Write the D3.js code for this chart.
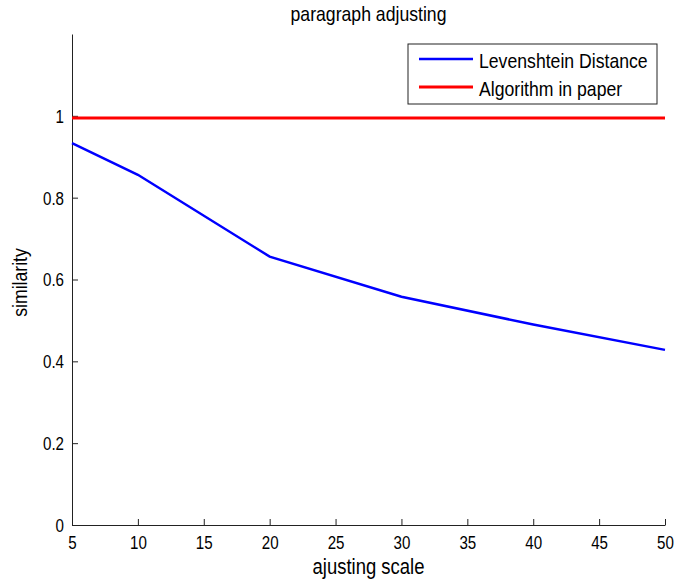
<!DOCTYPE html>
<html>
<head>
<meta charset="utf-8">
<script src="https://cdn.jsdelivr.net/npm/d3@7"></script>
<style>
  body { margin: 0; background: #fff; }
  text { font-family: "Liberation Sans", Arial, sans-serif; }
</style>
</head>
<body>
<div id="chart"></div>
<script>
// data
const scales = [5, 10, 20, 30, 40, 50];
const levenshtein = [0.933, 0.856, 0.656, 0.558, 0.490, 0.428];
const paperAlg = [0.995, 0.995, 0.995, 0.995, 0.995, 0.995];
const xTicks = [5, 10, 15, 20, 25, 30, 35, 40, 45, 50];
const yTicks = [0, 0.2, 0.4, 0.6, 0.8, 1];
const seriesNames = ["Levenshtein Distance", "Algorithm in paper"];
const seriesColors = ["#0000ff", "#ff0000"];

const margin = { top: 34, right: 9, bottom: 56, left: 72 };
const width = 674 - margin.left - margin.right;
const height = 581 - margin.top - margin.bottom;
const fontFam = "Liberation Sans, Arial, sans-serif";

const svg = d3.select("#chart")
    .append("svg")
    .attr("width", 674)
    .attr("height", 581)
    .append("g")
    .attr("transform", "translate(" + margin.left + "," + margin.top + ")");

const x = d3.scaleLinear().domain([5, 50]).range([0, width]);
const y = d3.scaleLinear().domain([0, 1.2]).range([height, 0]);

// axes, MATLAB style: ticks pointing inwards
const xAxis = svg.append("g")
    .attr("transform", "translate(0," + height + ")")
    .call(d3.axisBottom(x).tickValues(xTicks).tickSizeInner(-6).tickSizeOuter(0).tickPadding(0));

const yAxis = svg.append("g")
    .call(d3.axisLeft(y).tickValues(yTicks).tickFormat(d => d).tickSizeInner(-6).tickSizeOuter(0).tickPadding(8));

[xAxis, yAxis].forEach(a => {
    a.selectAll("path").attr("stroke", "#222");
    a.selectAll("line").attr("stroke", "#222");
    a.selectAll("text").attr("font-size", 18).attr("fill", "#000")
        .attr("font-family", fontFam);
});
xAxis.selectAll("text").attr("dy", null).attr("y", 24);
yAxis.selectAll("text").attr("dy", "0.36em");

// lines
const line = d3.line().x((d, i) => x(scales[i])).y(d => y(d));
[levenshtein, paperAlg].forEach((vals, i) => {
    svg.append("path")
        .datum(vals)
        .attr("fill", "none")
        .attr("stroke", seriesColors[i])
        .attr("stroke-width", i === 1 ? 3 : 2.5)
        .attr("d", line);
});

// title and labels
svg.append("text")
    .attr("x", width / 2)
    .attr("y", 21 - margin.top)
    .attr("text-anchor", "middle")
    .attr("font-size", 21)
    .text("paragraph adjusting");

svg.append("text")
    .attr("x", width / 2)
    .attr("y", 574 - margin.top)
    .attr("text-anchor", "middle")
    .attr("font-size", 22)
    .text("ajusting scale");

svg.append("text")
    .attr("transform", "translate(" + (27 - margin.left) + "," + (height / 2 + 3) + ") rotate(-90)")
    .attr("text-anchor", "middle")
    .attr("font-size", 21)
    .text("similarity");

// legend
const legend = svg.append("g")
    .attr("transform", "translate(" + (408 - margin.left) + "," + (44 - margin.top) + ")");

legend.append("rect")
    .attr("width", 249)
    .attr("height", 60)
    .attr("fill", "#fff")
    .attr("stroke", "#222")
    .attr("stroke-width", 1);

const legendItems = legend.selectAll(".legend-item")
    .data(seriesNames)
    .enter().append("g")
    .attr("class", "legend-item")
    .attr("transform", (d, i) => "translate(0," + (15 + i * 28) + ")");

legendItems.append("line")
    .attr("x1", 11)
    .attr("x2", 65)
    .attr("stroke", (d, i) => seriesColors[i])
    .attr("stroke-width", (d, i) => i === 1 ? 3 : 2.5);

legendItems.append("text")
    .attr("x", 71)
    .attr("y", 9)
    .attr("font-size", 21)
    .text(d => d);

// MATLAB's Helvetica is narrower than Liberation Sans: squeeze glyphs
d3.selectAll("text").each(function () {
    const len = this.getComputedTextLength();
    d3.select(this)
        .attr("textLength", len * 0.84)
        .attr("lengthAdjust", "spacingAndGlyphs");
});
</script>
</body>
</html>
